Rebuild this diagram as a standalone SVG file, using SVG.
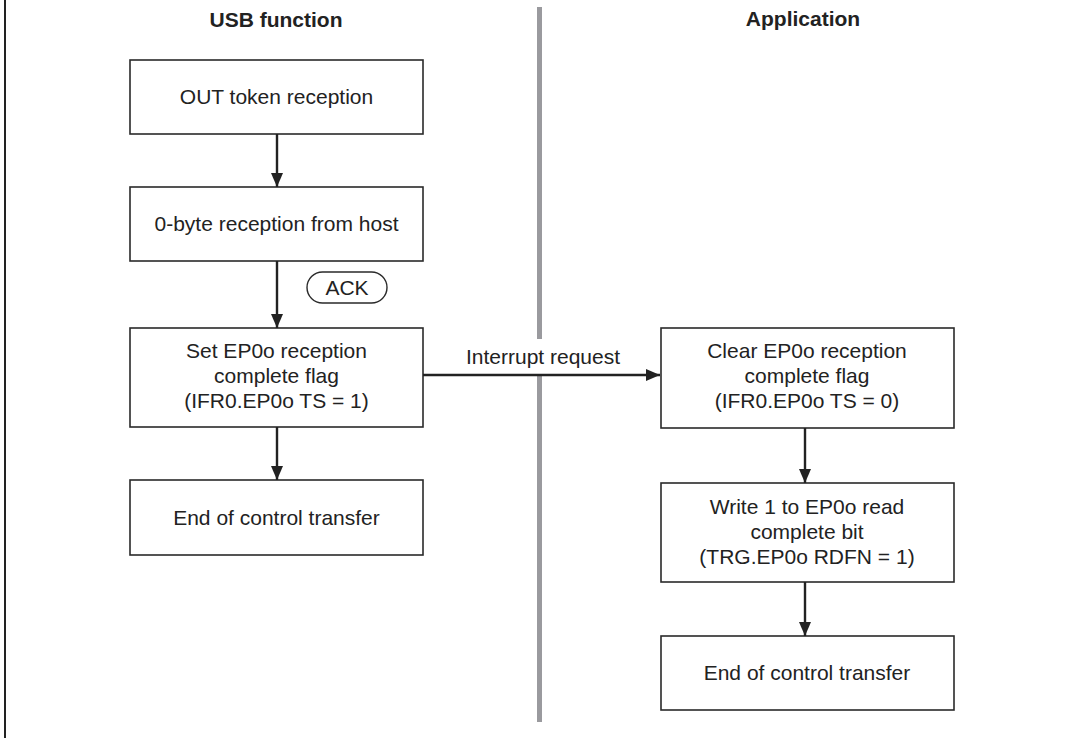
<svg xmlns="http://www.w3.org/2000/svg" width="1069" height="738" viewBox="0 0 1069 738">
<defs>
<style>
.box{fill:#fff;stroke:#2a2a2a;stroke-width:1.6}
.t{font-family:"Liberation Sans",Arial,sans-serif;font-size:21px;fill:#222;text-anchor:middle}
.h{font-family:"Liberation Sans",Arial,sans-serif;font-size:21px;font-weight:bold;fill:#222;text-anchor:middle}
.c{stroke:#222;stroke-width:2.4;fill:none}
.div{stroke:#9a9a9e;stroke-width:5}
</style>
<marker id="ah" viewBox="0 0 14 12" refX="14" refY="6" markerWidth="14" markerHeight="12" markerUnits="userSpaceOnUse" orient="auto">
<path d="M0,0 L14,6 L0,12 Z" fill="#222"/>
</marker>
</defs>
<rect width="1069" height="738" fill="#fff"/>
<line x1="5" y1="0" x2="5" y2="738" stroke="#222" stroke-width="2"/>
<line class="div" x1="539.5" y1="7" x2="539.5" y2="339"/>
<line class="div" x1="539.5" y1="375" x2="539.5" y2="722"/>
<text class="h" x="276" y="27">USB function</text>
<text class="h" x="803" y="26">Application</text>

<g id="n1"><rect class="box" x="130" y="60" width="293" height="74"/><text class="t" x="276.5" y="104">OUT token reception</text></g>
<g id="n2"><rect class="box" x="130" y="187" width="293" height="74"/><text class="t" x="276.5" y="231">0-byte reception from host</text></g>
<g id="ack"><rect x="307" y="272" width="80" height="31" rx="15.5" fill="#fff" stroke="#2a2a2a" stroke-width="1.4"/><text class="t" x="347" y="295">ACK</text></g>
<g id="n3"><rect class="box" x="130" y="328" width="293" height="99"/><text class="t" x="276.5" y="358">Set EP0o reception</text><text class="t" x="276.5" y="383">complete flag</text><text class="t" x="276.5" y="408">(IFR0.EP0o TS = 1)</text></g>
<g id="n4"><rect class="box" x="130" y="480" width="293" height="75"/><text class="t" x="276.5" y="525">End of control transfer</text></g>

<g id="r1"><rect class="box" x="661" y="328" width="293" height="100"/><text class="t" x="807" y="358">Clear EP0o reception</text><text class="t" x="807" y="383">complete flag</text><text class="t" x="807" y="408">(IFR0.EP0o TS = 0)</text></g>
<g id="r2"><rect class="box" x="661" y="483" width="293" height="99"/><text class="t" x="807" y="514">Write 1 to EP0o read</text><text class="t" x="807" y="539">complete bit</text><text class="t" x="807" y="564">(TRG.EP0o RDFN = 1)</text></g>
<g id="r3"><rect class="box" x="661" y="636" width="293" height="74"/><text class="t" x="807" y="680">End of control transfer</text></g>

<g id="connectors">
<line class="c" x1="277" y1="134" x2="277" y2="187" marker-end="url(#ah)"/>
<line class="c" x1="277" y1="261" x2="277" y2="328" marker-end="url(#ah)"/>
<line class="c" x1="277" y1="427" x2="277" y2="480" marker-end="url(#ah)"/>
<line class="c" x1="423" y1="375" x2="660" y2="375" marker-end="url(#ah)"/>
<text class="t" x="543" y="364">Interrupt request</text>
<line class="c" x1="805" y1="428" x2="805" y2="483" marker-end="url(#ah)"/>
<line class="c" x1="805" y1="582" x2="805" y2="636" marker-end="url(#ah)"/>
</g>
</svg>
